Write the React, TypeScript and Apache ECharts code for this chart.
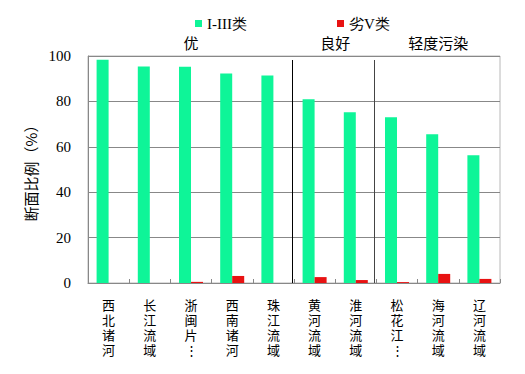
import React, { useEffect, useRef } from "react";
import * as echarts from "echarts";

const categories = ["西北诸河", "长江流域", "浙闽片河流", "西南诸河", "珠江流域", "黄河流域", "淮河流域", "松花江流域", "海河流域", "辽河流域"];
const seriesNames = ["I-III类", "劣V类"];
const goodValues = [98.4, 95.4, 95.3, 92.3, 91.4, 80.9, 75.2, 73.0, 65.5, 56.3];
const worstValues = [0, 0, 0.5, 3.1, 0, 2.6, 1.3, 0.4, 4.0, 1.8];
const yMin = 0;
const yMax = 100;
const yInterval = 20;
const groupNames = ["优", "良好", "轻度污染"];
const groupFirst = [0, 5, 7];
const groupLast = [4, 6, 9];

const GREEN = "#0ef598";
const RED = "#e81212";
const SERIF = "serif";
const SANS = "Noto Sans CJK SC";

export default function App() {
  const ref = useRef<HTMLDivElement>(null);
  useEffect(() => {
    const chart = echarts.init(ref.current!, null, { renderer: "svg" });
    chart.setOption({
      animation: false,
      backgroundColor: "#ffffff",
      textStyle: { fontFamily: SANS },
      grid: {
        left: 88,
        right: 25,
        top: 56,
        bottom: 91,
        show: true,
        borderColor: "#b8b8b8",
        borderWidth: 1,
      },
      legend: {
        data: seriesNames,
        left: 190,
        top: 11,
        itemWidth: 7,
        itemHeight: 7,
        itemGap: 90,
        icon: "rect",
        textStyle: { fontFamily: SERIF, fontSize: 15, color: "#000" },
      },
      xAxis: {
        type: "category",
        data: categories,
        axisLine: { lineStyle: { color: "#888", width: 1 } },
        axisTick: { show: true, inside: true, length: 4, lineStyle: { color: "#888" } },
        axisLabel: {
          interval: 0,
          margin: 14,
          fontFamily: SANS,
          fontSize: 13,
          lineHeight: 15,
          color: "#000",
          formatter: (v: string) => {
            const chars = v.length > 4 ? [...v.slice(0, 3).split(""), "⋮"] : v.split("");
            return chars.join("\n");
          },
        },
      },
      yAxis: {
        type: "value",
        min: yMin,
        max: yMax,
        interval: yInterval,
        name: "断面比例（%）",
        nameLocation: "middle",
        nameGap: 43,
        nameTextStyle: { fontFamily: SANS, fontSize: 15, color: "#000" },
        axisLine: { show: true, lineStyle: { color: "#888", width: 1 } },
        axisTick: { show: false },
        axisLabel: { margin: 17, fontFamily: SERIF, fontSize: 15, color: "#000" },
        splitLine: { show: true, lineStyle: { color: "#888", width: 1 } },
      },
      series: [
        {
          name: seriesNames[0],
          type: "bar",
          data: goodValues,
          barWidth: 12,
          barGap: "0%",
          itemStyle: { color: GREEN },
        },
        {
          name: seriesNames[1],
          type: "bar",
          data: worstValues,
          barWidth: 12,
          barGap: "0%",
          itemStyle: { color: RED },
        },
      ],
    });

    const xOf = (i: number) => chart.convertToPixel({ xAxisIndex: 0 }, i) as number;
    const yOf = (v: number) => chart.convertToPixel({ yAxisIndex: 0 }, v) as number;
    const yBottom = yOf(yMin);
    const yTop = yOf(yMax) + 4;
    const elements: any[] = [];
    for (let g = 0; g < groupNames.length; g++) {
      const cx = (xOf(groupFirst[g]) + xOf(groupLast[g])) / 2;
      elements.push({
        type: "text",
        x: cx,
        y: 42,
        style: {
          text: groupNames[g],
          fontFamily: SANS,
          fontSize: 15,
          fill: "#000",
          align: "center",
          verticalAlign: "middle",
        },
      });
      if (g < groupNames.length - 1) {
        const sx = Math.round((xOf(groupLast[g]) + xOf(groupLast[g] + 1)) / 2) - 1.5;
        elements.push({
          type: "line",
          shape: { x1: sx, y1: yTop, x2: sx, y2: yBottom },
          style: { stroke: g === 0 ? "#000" : "#444", lineWidth: 1 },
          z: 10,
        });
      }
    }
    chart.setOption({ graphic: elements });

    return () => chart.dispose();
  }, []);
  return <div ref={ref} style={{ position: "fixed", left: 0, top: 0, width: 525, height: 374 }} />;
}
